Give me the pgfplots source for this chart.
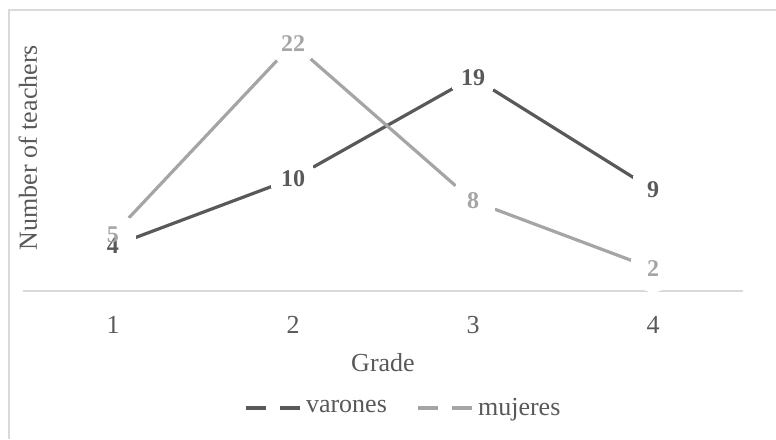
\documentclass[border=0pt]{standalone}
\usepackage{fontspec}
\setmainfont{Liberation Serif}
\usepackage{pgfplots}
\pgfplotsset{compat=1.18}
\definecolor{dk}{HTML}{595959}
\definecolor{lt}{HTML}{A5A5A5}
\definecolor{ax}{HTML}{D9D9D9}

\begin{document}
\begin{tikzpicture}
\useasboundingbox (-11.5pt,-74pt) rectangle (376.5pt,145.5pt);
% chart frame (only top and left edges are in view)
\draw[ax, line width=0.75pt] (-7pt,-74pt) -- (-7pt,140.5pt) -- (376.5pt,140.5pt);
\begin{axis}[
    at={(0,0)}, anchor=south west,
    scale only axis,
    width=360pt, height=135pt,
    xmin=0.5, xmax=4.5,
    ymin=0, ymax=24,
    axis y line*=left,
    axis x line*=bottom,
    y axis line style={draw=none},
    x axis line style={draw=ax, line width=0.8pt},
    xtick={1,2,3,4},
    xticklabels={1,2,3,4},
    ytick=\empty,
    major tick length=0pt,
    /pgf/number format/assume math mode=true,
    xticklabel style={anchor=base, yshift=-21pt, text=dk, font=\fontsize{13}{15}\selectfont},
    xlabel={Grade},
    xlabel style={at={(rel axis cs:0.5,0)}, anchor=base, yshift=-40pt, text=dk, font=\fontsize{13}{15}\selectfont},
    ylabel={Number of teachers},
    ylabel style={at={(rel axis cs:0.0194,0.531)}, anchor=base, rotate=0, text=dk, font=\fontsize{13}{15}\selectfont},
    legend columns=-1,
    legend style={at={(rel axis cs:0.53,-0.433)}, anchor=center, draw=none, fill=none,
        text=dk, font=\fontsize{13}{15}\selectfont,
        /tikz/every even column/.append style={column sep=13pt}},
    legend image code/.code={
        \draw[#1, mark=none] (0pt,0pt) -- (10pt,0pt);
        \draw[#1, mark=none] (17pt,0pt) -- (27pt,0pt);
    },
    clip=false,
]
% lines, with big white markers that cut the line ends
\addplot[dk, line width=1.6pt, mark=*, mark size=11.5pt,
    mark options={draw=white, fill=white, line width=0pt}]
    coordinates {(1,4) (2,10) (3,19) (4,9)};
\addplot[lt, line width=1.6pt, mark=*, mark size=11.5pt,
    mark options={draw=white, fill=white, line width=0pt}]
    coordinates {(1,5) (2,22) (3,8) (4,2)};
\legend{varones, mujeres}
% data labels on top
\addplot[draw=none, forget plot, nodes near coords,
    every node near coord/.append style={anchor=center, text=dk, font=\bfseries\fontsize{12}{14}\selectfont}]
    coordinates {(1,4) (2,10) (3,19) (4,9)};
\addplot[draw=none, forget plot, nodes near coords,
    every node near coord/.append style={anchor=center, text=lt, font=\bfseries\fontsize{12}{14}\selectfont}]
    coordinates {(1,5) (2,22) (3,8) (4,2)};
\end{axis}
\end{tikzpicture}
\end{document}
